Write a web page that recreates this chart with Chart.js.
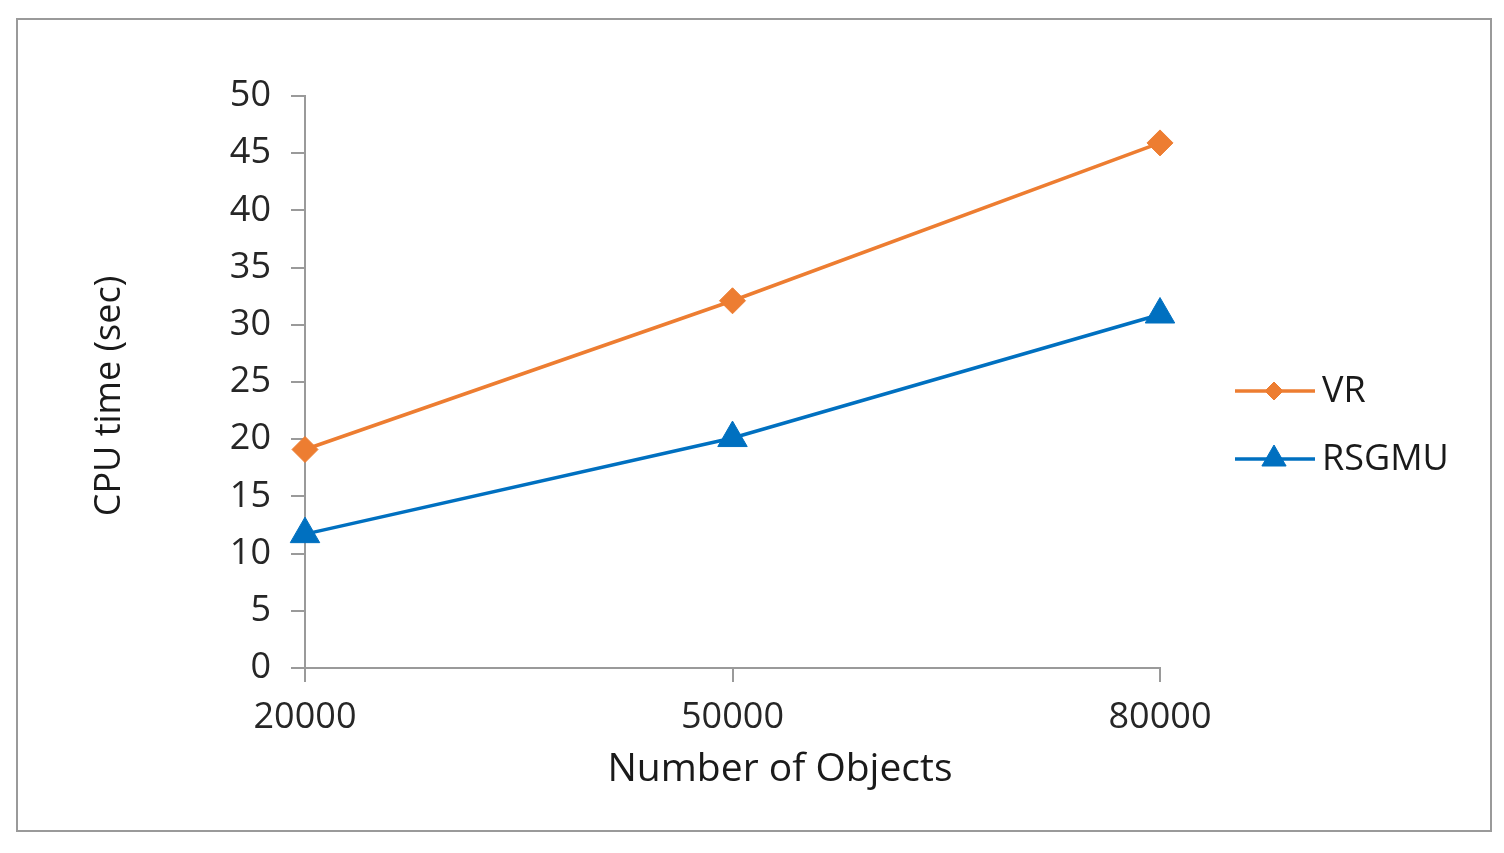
<!DOCTYPE html>
<html lang="en">
<head>
    <meta charset="UTF-8">
    <title>CPU time vs Number of Objects</title>
    <script src="https://cdn.jsdelivr.net/npm/chart.js"></script>
    <style>
        html, body { margin: 0; padding: 0; background: #fff; }
        #wrap { width: 1504px; height: 853px; }
    </style>
</head>
<body>
    <div id="wrap"><canvas id="cpuChart"></canvas></div>

    <script>
        // data
        const numObjects = [20000, 50000, 80000];
        const vrTimes = [19.1, 32.1, 45.9];
        const rsgmuTimes = [11.7, 20.1, 30.9];
        const seriesNames = ['VR', 'RSGMU'];
        const yTicks = [0, 5, 10, 15, 20, 25, 30, 35, 40, 45, 50];
        const xTitle = 'Number of Objects';
        const yTitle = 'CPU time (sec)';

        const fontFamily = '"Open Sans", "DejaVu Sans", sans-serif';
        const axisGray = '#9a9a9a';

        // frame, axis titles and a legend with the line through the marker
        const extras = {
            id: 'extras',
            afterDraw(chart) {
                const c = chart.ctx;
                c.save();
                c.strokeStyle = '#9a9a9a';
                c.lineWidth = 2;
                c.strokeRect(17, 19, 1474, 812);

                c.fillStyle = '#1a1a1a';
                c.font = '39px ' + fontFamily;
                c.textAlign = 'center';
                c.textBaseline = 'middle';
                c.fillText(xTitle, 780, 770);

                c.save();
                c.translate(110, 396);
                c.rotate(-Math.PI / 2);
                c.font = '36px ' + fontFamily;
                c.fillText(yTitle, 0, 0);
                c.restore();

                const items = [
                    { ds: chart.data.datasets[0], y: 391, r: 9 },
                    { ds: chart.data.datasets[1], y: 459, r: 14 }
                ];
                items.forEach(it => {
                    c.strokeStyle = it.ds.borderColor;
                    c.fillStyle = it.ds.backgroundColor;
                    c.lineWidth = 3.5;
                    c.beginPath();
                    c.moveTo(1235, it.y);
                    c.lineTo(1315, it.y);
                    c.stroke();
                    c.lineWidth = 1;
                    Chart.helpers.drawPoint(c, {
                        pointStyle: it.ds.pointStyle,
                        radius: it.r,
                        borderWidth: 1
                    }, 1274, it.y);
                    c.fillStyle = '#1a1a1a';
                    c.font = '36px ' + fontFamily;
                    c.textBaseline = 'middle';
                    c.textAlign = 'left';
                    c.fillText(it.ds.label, 1322, it.y + 1);
                });
                c.restore();
            }
        };

        const ctx = document.getElementById('cpuChart').getContext('2d');
        const grafica = new Chart(ctx, {
            type: 'line',
            data: {
                datasets: [{
                    label: seriesNames[0],
                    data: numObjects.map((x, i) => ({ x: x, y: vrTimes[i] })),
                    borderColor: '#ED7D31',
                    backgroundColor: '#ED7D31',
                    borderWidth: 3.5,
                    pointStyle: 'rectRot',
                    pointRadius: 13,
                    pointBorderWidth: 1,
                    tension: 0,
                    clip: false
                }, {
                    label: seriesNames[1],
                    data: numObjects.map((x, i) => ({ x: x, y: rsgmuTimes[i] })),
                    borderColor: '#0070C0',
                    backgroundColor: '#0070C0',
                    borderWidth: 3.5,
                    pointStyle: 'triangle',
                    pointRadius: 17,
                    pointBorderWidth: 1,
                    tension: 0,
                    clip: false
                }]
            },
            options: {
                responsive: true,
                maintainAspectRatio: false,
                animation: false,
                layout: { padding: { left: 84, top: 96, right: 344, bottom: 0 } },
                plugins: {
                    legend: { display: false },
                    tooltip: { enabled: false }
                },
                scales: {
                    x: {
                        type: 'linear',
                        min: numObjects[0],
                        max: numObjects[numObjects.length - 1],
                        afterBuildTicks: s => { s.ticks = numObjects.map(v => ({ value: v })); },
                        afterFit: s => { s.height = 185; },
                        border: { color: axisGray, width: 2 },
                        grid: { drawOnChartArea: false, color: axisGray, tickLength: 14, lineWidth: 2 },
                        ticks: {
                            color: '#262626',
                            font: { family: fontFamily, size: 36 },
                            padding: 14,
                            maxRotation: 0,
                            callback: v => String(v)
                        }
                    },
                    y: {
                        min: 0,
                        max: 50,
                        afterBuildTicks: s => { s.ticks = yTicks.map(v => ({ value: v })); },
                        afterFit: s => { s.width = 305 - 84; },
                        border: { color: axisGray, width: 2 },
                        grid: { drawOnChartArea: false, color: axisGray, tickLength: 14, lineWidth: 2 },
                        ticks: {
                            color: '#262626',
                            font: { family: fontFamily, size: 36 },
                            padding: 20
                        }
                    }
                }
            },
            plugins: [extras]
        });
    </script>
</body>
</html>
